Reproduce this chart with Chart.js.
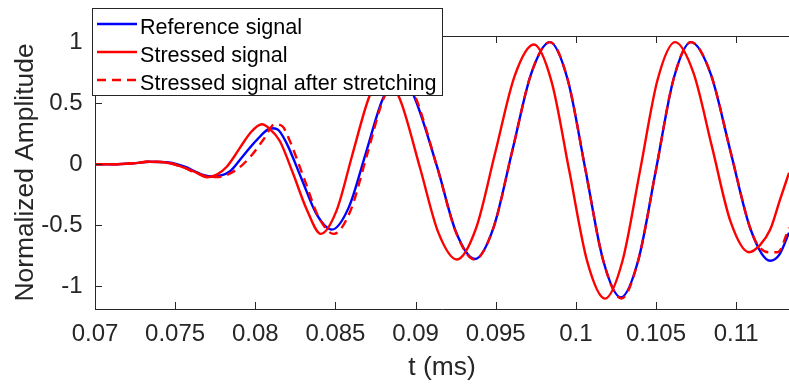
<!DOCTYPE html>
<html>
<head>
<meta charset="utf-8">
<script src="https://cdn.jsdelivr.net/npm/chart.js@4/dist/chart.umd.min.js"></script>
<style>
  html, body { margin: 0; padding: 0; background: #fff; }
  canvas { display: block; }
</style>
</head>
<body>
<canvas id="signals" width="789" height="384"></canvas>
<script>
// time axis in ms, amplitudes normalized
const tRef = [0.0700, 0.0712, 0.0724, 0.0734, 0.0746, 0.0756, 0.0762, 0.0768, 0.07735, 0.0784, 0.0792, 0.0801, 0.0810, 0.0814, 0.08195, 0.08289,
  0.08384, 0.08478, 0.08584, 0.08690, 0.08796, 0.08902, 0.08983, 0.09136, 0.09253, 0.09370, 0.09487, 0.09604, 0.09721,
  0.09838, 0.09949, 0.10060, 0.10170, 0.10281, 0.10390, 0.10500, 0.10609, 0.10718, 0.10842, 0.10965, 0.11089, 0.11212, 0.11270, 0.11330];
const ampRef = [0.000, 0.000, 0.008, 0.020, 0.014, -0.020, -0.055, -0.090, -0.100, -0.060, 0.062, 0.200, 0.295, 0.285, 0.173, -0.120,
  -0.413, -0.535, -0.351, 0.092, 0.536, 0.720, 0.580, -0.028, -0.557, -0.776, -0.516, 0.112, 0.740,
  1.000, 0.694, -0.045, -0.784, -1.090, -0.784, -0.045, 0.694, 1.000, 0.738, 0.105, -0.528, -0.790, -0.740, -0.560];

const tStressed = [0.0700, 0.0712, 0.0724, 0.0734, 0.0745, 0.0753, 0.07635, 0.07697, 0.07760, 0.07822, 0.07872, 0.07922, 0.07978, 0.08041,
  0.08090, 0.08153, 0.08234, 0.08321, 0.08409, 0.08507, 0.08604, 0.08702, 0.08750, 0.08799, 0.08856, 0.08914, 0.09029, 0.09143, 0.09258,
  0.09378, 0.09498, 0.09618, 0.09738, 0.09849, 0.09960, 0.10071, 0.10182, 0.10291, 0.10401, 0.10510, 0.10619, 0.10734, 0.10850, 0.10965,
  0.11080, 0.11150, 0.11212, 0.11274, 0.11330];
const ampStressed = [0.000, 0.000, 0.008, 0.020, 0.012, -0.015, -0.070, -0.106, -0.085, -0.020, 0.070, 0.170, 0.270, 0.327,
  0.290, 0.190, -0.070, -0.370, -0.570, -0.380, 0.070, 0.520, 0.661, 0.710, 0.653, 0.492, -0.035, -0.562, -0.780,
  -0.522, 0.100, 0.722, 0.980, 0.675, -0.060, -0.795, -1.100, -0.792, -0.050, 0.692, 1.000, 0.748, 0.140, -0.468,
  -0.720, -0.660, -0.537, -0.290, -0.070];

const tStretched = [0.0700, 0.0712, 0.0724, 0.0734, 0.0746, 0.0755, 0.0762, 0.0769, 0.07760, 0.0788, 0.0797, 0.0805, 0.08122, 0.0817,
  0.08214, 0.08306, 0.08398, 0.08490, 0.08594, 0.08698, 0.08801, 0.08905, 0.0899, 0.09136, 0.09253, 0.09368, 0.09487,
  0.09604, 0.09721, 0.09838, 0.09949, 0.10060, 0.10170, 0.10284, 0.10390, 0.10500, 0.10609, 0.10718, 0.10842, 0.10965, 0.11089, 0.11140,
  0.11200, 0.11260, 0.11330];
const ampStretched = [0.000, 0.000, 0.008, 0.022, 0.012, -0.025, -0.065, -0.095, -0.105, -0.047, 0.062, 0.200, 0.327, 0.310,
  0.196, -0.122, -0.439, -0.570, -0.380, 0.080, 0.540, 0.730, 0.580, -0.030, -0.560, -0.780, -0.516,
  0.112, 0.740, 1.000, 0.694, -0.045, -0.784, -1.100, -0.784, -0.045, 0.694, 1.000, 0.738, 0.105, -0.528, -0.670,
  -0.720, -0.720, -0.520];

const seriesNames = ['Reference signal', 'Stressed signal', 'Stressed signal after stretching'];
const xTickValues = [0.07, 0.075, 0.08, 0.085, 0.09, 0.095, 0.1, 0.105, 0.11];
const yTickValues = [-1, -0.5, 0, 0.5, 1];

const AXIS = '#262626';
const FONT = '"Liberation Sans", Arial, sans-serif';
const toPoints = (ts, vs) => ts.map((t, i) => ({ x: t, y: vs[i] }));

// box edge on top plus inward tick marks, MATLAB style
const axesBox = {
  id: 'axesBox',
  afterDraw(chart) {
    const { ctx, chartArea: a, scales: { x, y } } = chart;
    ctx.save();
    ctx.strokeStyle = AXIS;
    ctx.lineWidth = 1;
    ctx.beginPath();
    ctx.moveTo(a.left, a.top + 0.5);
    ctx.lineTo(a.right, a.top + 0.5);
    xTickValues.forEach(v => {
      const px = Math.round(x.getPixelForValue(v)) + 0.5;
      ctx.moveTo(px, a.bottom); ctx.lineTo(px, a.bottom - 7);
      ctx.moveTo(px, a.top); ctx.lineTo(px, a.top + 7);
    });
    yTickValues.forEach(v => {
      const py = Math.round(y.getPixelForValue(v)) + 0.5;
      ctx.moveTo(a.left, py); ctx.lineTo(a.left + 7, py);
    });
    ctx.stroke();
    ctx.restore();
  }
};

// legend box in the upper left corner
const legendBox = {
  id: 'legendBox',
  afterDraw(chart) {
    const ctx = chart.ctx;
    const sets = chart.data.datasets;
    ctx.save();
    ctx.fillStyle = '#fff';
    ctx.fillRect(93, 8, 350, 87);
    ctx.strokeStyle = AXIS;
    ctx.lineWidth = 1;
    ctx.strokeRect(92.5, 8.5, 350, 87);
    ctx.font = '21.6px ' + FONT;
    ctx.textBaseline = 'alphabetic';
    seriesNames.forEach((name, i) => {
      const ds = sets[i];
      const yMid = 24 + i * 28;
      ctx.strokeStyle = ds.borderColor;
      ctx.lineWidth = ds.borderWidth;
      ctx.setLineDash(ds.borderDash || []);
      ctx.beginPath();
      ctx.moveTo(97, yMid);
      ctx.lineTo(137, yMid);
      ctx.stroke();
      ctx.setLineDash([]);
      ctx.fillStyle = '#000';
      ctx.fillText(name, 140, yMid + 9.5);
    });
    ctx.restore();
  }
};

const fmt = v => String(Number(v.toFixed(4)));

new Chart(document.getElementById('signals'), {
  type: 'line',
  data: {
    datasets: [
      { label: seriesNames[0], data: toPoints(tRef, ampRef), borderColor: 'rgb(0,0,255)', borderWidth: 2.4, order: 3 },
      { label: seriesNames[1], data: toPoints(tStressed, ampStressed), borderColor: 'rgb(255,0,0)', borderWidth: 2.4, order: 2 },
      { label: seriesNames[2], data: toPoints(tStretched, ampStretched), borderColor: 'rgb(255,0,0)', borderWidth: 2.4, borderDash: [9, 6], order: 1 }
    ]
  },
  options: {
    responsive: false,
    animation: false,
    devicePixelRatio: 1,
    layout: { padding: { top: 36, right: 0, left: 0, bottom: 0 } },
    elements: {
      point: { radius: 0 },
      line: { cubicInterpolationMode: 'monotone', fill: false }
    },
    plugins: { legend: { display: false }, tooltip: { enabled: false } },
    scales: {
      x: {
        type: 'linear',
        min: 0.07,
        max: 0.1133,
        afterBuildTicks: s => { s.ticks = xTickValues.map(v => ({ value: v })); },
        afterFit: s => { s.height = 75; },
        grid: { display: false, drawTicks: false },
        border: { display: true, color: AXIS, width: 1 },
        ticks: {
          color: AXIS, padding: 10.5, maxRotation: 0, autoSkip: false,
          font: { family: FONT, size: 24 },
          callback: v => fmt(v)
        },
        title: {
          display: true, text: 't (ms)', color: AXIS,
          font: { family: FONT, size: 26.4 },
          padding: { top: 0, bottom: 0 }
        }
      },
      y: {
        type: 'linear',
        min: -1.185,
        max: 1.05,
        afterBuildTicks: s => { s.ticks = yTickValues.map(v => ({ value: v })); },
        afterFit: s => { s.width = 95; },
        grid: { display: false, drawTicks: false },
        border: { display: true, color: AXIS, width: 1 },
        ticks: {
          color: AXIS, padding: 12.5,
          font: { family: FONT, size: 24 },
          callback: v => fmt(v)
        },
        title: {
          display: true, text: 'Normalized Amplitude', color: AXIS,
          font: { family: FONT, size: 26.4 },
          padding: { top: 10, bottom: 0 }
        }
      }
    }
  },
  plugins: [axesBox, legendBox]
});
</script>
</body>
</html>
